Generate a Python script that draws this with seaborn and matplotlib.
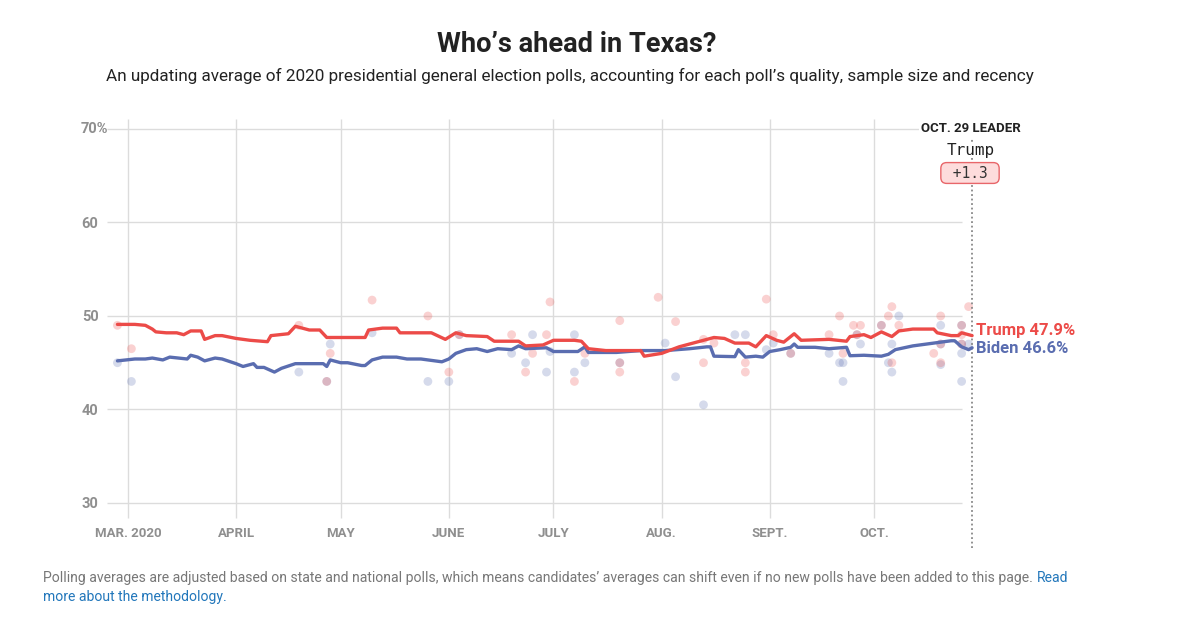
import numpy as np
import pandas as pd
import matplotlib
matplotlib.use('Agg')
import matplotlib.pyplot as plt
import seaborn as sns
from matplotlib import font_manager

# polling averages
trump_dates = ['2020-02-27', '2020-03-03', '2020-03-06', '2020-03-08', '2020-03-09', '2020-03-12',
               '2020-03-15', '2020-03-17', '2020-03-19', '2020-03-22', '2020-03-23', '2020-03-26',
               '2020-03-28', '2020-04-01', '2020-04-05', '2020-04-10', '2020-04-11', '2020-04-16',
               '2020-04-18', '2020-04-22', '2020-04-25', '2020-04-27', '2020-05-03', '2020-05-08',
               '2020-05-09', '2020-05-13', '2020-05-17', '2020-05-18', '2020-05-24', '2020-05-27',
               '2020-05-31', '2020-06-03', '2020-06-06', '2020-06-12', '2020-06-14', '2020-06-21',
               '2020-06-23', '2020-06-28', '2020-07-01', '2020-07-07', '2020-07-09', '2020-07-11',
               '2020-07-16', '2020-07-26', '2020-07-27', '2020-08-01', '2020-08-06', '2020-08-12',
               '2020-08-16', '2020-08-19', '2020-08-22', '2020-08-26', '2020-08-28', '2020-08-31',
               '2020-09-03', '2020-09-05', '2020-09-08', '2020-09-10', '2020-09-18', '2020-09-23',
               '2020-09-24', '2020-09-28', '2020-09-30', '2020-10-03', '2020-10-06', '2020-10-08',
               '2020-10-12', '2020-10-18', '2020-10-19', '2020-10-23', '2020-10-25', '2020-10-26',
               '2020-10-29']
trump_avg = [49.1, 49.1, 49.0, 48.6, 48.3, 48.2,
             48.2, 48.0, 48.4, 48.4, 47.5, 47.9,
             47.9, 47.6, 47.4, 47.25, 47.9, 48.1,
             48.9, 48.5, 48.5, 47.7, 47.7, 47.7,
             48.5, 48.7, 48.7, 48.2, 48.2, 48.2,
             47.5, 48.2, 47.9, 47.8, 47.3, 47.3,
             46.8, 46.9, 47.4, 47.4, 47.3, 46.5,
             46.3, 46.3, 45.7, 46.0, 46.7, 47.3,
             47.7, 47.6, 47.1, 47.1, 46.7, 47.9,
             47.4, 47.2, 48.1, 47.4, 47.5, 47.3,
             47.8, 48.0, 47.7, 48.3, 47.8, 48.4,
             48.6, 48.6, 48.2, 47.9, 47.9, 48.2,
             47.9]

biden_dates = ['2020-02-27', '2020-03-03', '2020-03-06', '2020-03-08', '2020-03-11', '2020-03-13',
               '2020-03-18', '2020-03-19', '2020-03-21', '2020-03-23', '2020-03-26', '2020-03-28',
               '2020-04-01', '2020-04-03', '2020-04-06', '2020-04-07', '2020-04-09', '2020-04-12',
               '2020-04-14', '2020-04-18', '2020-04-26', '2020-04-27', '2020-04-28', '2020-05-01',
               '2020-05-03', '2020-05-07', '2020-05-08', '2020-05-10', '2020-05-13', '2020-05-17',
               '2020-05-20', '2020-05-24', '2020-05-26', '2020-05-30', '2020-06-01', '2020-06-03',
               '2020-06-06', '2020-06-09', '2020-06-12', '2020-06-15', '2020-06-19', '2020-06-21',
               '2020-06-23', '2020-06-29', '2020-07-01', '2020-07-08', '2020-07-10', '2020-07-11',
               '2020-07-19', '2020-07-26', '2020-08-02', '2020-08-09', '2020-08-14', '2020-08-15',
               '2020-08-16', '2020-08-22', '2020-08-23', '2020-08-25', '2020-08-28', '2020-08-30',
               '2020-09-01', '2020-09-04', '2020-09-07', '2020-09-08', '2020-09-09', '2020-09-14',
               '2020-09-18', '2020-09-23', '2020-09-24', '2020-09-28', '2020-10-03', '2020-10-05',
               '2020-10-07', '2020-10-12', '2020-10-18', '2020-10-23', '2020-10-24', '2020-10-26',
               '2020-10-28', '2020-10-29']
biden_avg = [45.2, 45.4, 45.4, 45.5, 45.3, 45.6,
             45.4, 45.8, 45.6, 45.2, 45.5, 45.4,
             44.9, 44.6, 44.9, 44.5, 44.5, 44.0,
             44.4, 44.9, 44.9, 44.6, 45.3, 45.0,
             45.0, 44.7, 44.7, 45.3, 45.6, 45.6,
             45.4, 45.4, 45.3, 45.1, 45.4, 46.0,
             46.4, 46.5, 46.2, 46.5, 46.4, 46.8,
             46.5, 46.6, 46.2, 46.2, 46.7, 46.1,
             46.1, 46.3, 46.3, 46.5, 46.7, 46.7,
             45.7, 45.65, 46.4, 45.6, 45.7, 45.6,
             46.2, 46.4, 46.65, 47.0, 46.65, 46.65,
             46.5, 46.65, 45.75, 45.8, 45.7, 45.9,
             46.4, 46.8, 47.1, 47.35, 47.35, 46.7,
             46.4, 46.6]

# individual polls
trump_poll_dates = ['2020-02-27', '2020-03-02', '2020-04-19', '2020-04-27', '2020-04-28', '2020-05-10',
                    '2020-05-26', '2020-06-01', '2020-06-04', '2020-06-19', '2020-06-23', '2020-06-25',
                    '2020-06-29', '2020-06-30', '2020-07-07', '2020-07-10', '2020-07-20', '2020-07-20',
                    '2020-07-20', '2020-07-31', '2020-08-05', '2020-08-13', '2020-08-13', '2020-08-16',
                    '2020-08-25', '2020-08-25', '2020-08-31', '2020-09-02', '2020-09-07', '2020-09-18',
                    '2020-09-21', '2020-09-22', '2020-09-25', '2020-09-26', '2020-09-27', '2020-10-03',
                    '2020-10-05', '2020-10-06', '2020-10-06', '2020-10-08', '2020-10-18', '2020-10-20',
                    '2020-10-20', '2020-10-20', '2020-10-26', '2020-10-26', '2020-10-26', '2020-10-28']
trump_polls = [49, 46.5, 49, 43, 46, 51.7,
               50, 44, 48, 48, 44, 46,
               48, 51.5, 43, 46, 49.5, 44,
               45, 52, 49.4, 47.5, 45, 47.1,
               45, 44, 51.8, 48, 46, 48,
               50, 46, 49, 48, 49, 49,
               50, 51, 45, 49, 46, 50,
               45, 47, 49, 48, 47, 51]

biden_poll_dates = ['2020-02-27', '2020-03-02', '2020-04-19', '2020-04-27', '2020-04-28', '2020-05-10',
                    '2020-05-26', '2020-06-01', '2020-06-04', '2020-06-19', '2020-06-23', '2020-06-25',
                    '2020-06-29', '2020-06-30', '2020-07-07', '2020-07-07', '2020-07-10', '2020-07-20',
                    '2020-08-02', '2020-08-05', '2020-08-13', '2020-08-22', '2020-08-25', '2020-08-31',
                    '2020-09-02', '2020-09-07', '2020-09-18', '2020-09-21', '2020-09-22', '2020-09-22',
                    '2020-09-26', '2020-09-27', '2020-10-03', '2020-10-05', '2020-10-06', '2020-10-06',
                    '2020-10-08', '2020-10-20', '2020-10-20', '2020-10-20', '2020-10-26', '2020-10-26',
                    '2020-10-26', '2020-10-26', '2020-10-28']
biden_polls = [45, 43, 44, 43, 47, 48.2,
               43, 43, 48, 46, 45, 48,
               44, 46.2, 48, 44, 45, 45,
               47.1, 43.5, 40.5, 48, 48, 46.4,
               47.1, 46, 46, 45, 45, 43,
               48, 47, 49, 45, 47, 44,
               50, 49, 47, 44.8, 49, 47,
               46, 43, 47]

month_ticks = ['2020-03-01', '2020-04-01', '2020-05-01', '2020-06-01',
               '2020-07-01', '2020-08-01', '2020-09-01', '2020-10-01']
month_labels = ['MAR. 2020', 'APRIL', 'MAY', 'JUNE', 'JULY', 'AUG.', 'SEPT.', 'OCT.']
y_ticks = [30, 40, 50, 60, 70]
y_labels = ['30', '40', '50', '60', '']

RED = '#ec4b48'
BLUE = '#5a6db0'
GRID = '#dcdcdc'
TICK = '#8f8f8f'

sns.set_style('white')
names = set(f.name for f in font_manager.fontManager.ttflist)
narrow = 'Liberation Sans Narrow' if 'Liberation Sans Narrow' in names else 'Roboto'
plt.rcParams['font.family'] = [narrow, 'DejaVu Sans']

fig = plt.figure(figsize=(11.96, 6.38), dpi=100)
ax = fig.add_axes([100 / 1196, (638 - 520) / 638, 900 / 1196, 410 / 638])
ax.set_xlim(pd.Timestamp('2020-02-22'), pd.Timestamp('2020-11-06'))
ax.set_ylim(28.18, 72.03)

# gridlines
ax.hlines(y_ticks, pd.Timestamp('2020-02-24'), pd.Timestamp('2020-10-26'), color=GRID, lw=1, zorder=0)
ax.vlines(pd.to_datetime(month_ticks), 28.4, 71.1, color=GRID, lw=1, zorder=0)

# polls
sns.scatterplot(x=pd.to_datetime(biden_poll_dates), y=biden_polls, color=BLUE, alpha=0.25,
                s=40, edgecolor='none', ax=ax, zorder=1)
sns.scatterplot(x=pd.to_datetime(trump_poll_dates), y=trump_polls, color=RED, alpha=0.25,
                s=40, edgecolor='none', ax=ax, zorder=1)

# averages
sns.lineplot(x=pd.to_datetime(biden_dates), y=biden_avg, color=BLUE, lw=2.4, ax=ax, zorder=3)
sns.lineplot(x=pd.to_datetime(trump_dates), y=trump_avg, color=RED, lw=2.4, ax=ax, zorder=4)

for s in ax.spines.values():
    s.set_visible(False)
ax.tick_params(length=0)
ax.tick_params(axis='x', pad=5)
ax.tick_params(axis='y', pad=1)
ax.set_xticks(pd.to_datetime(month_ticks), month_labels, fontsize=9.5, fontweight='bold', color=TICK)
ax.set_yticks(y_ticks, y_labels, fontsize=10.5, fontweight='bold', color=TICK)
# top label carries the percent sign, which hangs past the other labels
ax.text(0.009, 70, '70%', transform=ax.get_yaxis_transform(), ha='right', va='center',
        fontsize=10.5, fontweight='bold', color=TICK)
ax.set_xlabel('')
ax.set_ylabel('')

# leader marker
oct29 = pd.Timestamp('2020-10-29')
ax.vlines(oct29, 25.2, 69.8, color='#888888', lw=1.3, linestyles=(0, (1, 1.5)), clip_on=False, zorder=2)

ax.text(pd.Timestamp('2020-10-30'), 48.5, 'Trump 47.9%', color=RED, fontsize=12, fontweight='bold',
        family='Roboto', ha='left', va='center')
ax.text(pd.Timestamp('2020-10-30'), 46.5, 'Biden 46.6%', color=BLUE, fontsize=12, fontweight='bold',
        family='Roboto', ha='left', va='center')

fig.text(971 / 1196, 1 - 129 / 638, 'OCT. 29 LEADER', ha='center', va='center', fontsize=9.5,
         fontweight='bold', color='#222222', family='Roboto',
         bbox=dict(facecolor='white', edgecolor='none', pad=1.5))
fig.text(971 / 1196, 1 - 150 / 638, 'Trump', ha='center', va='center', fontsize=11.5,
         color='#222222', family='DejaVu Sans Mono',
         bbox=dict(facecolor='white', edgecolor='none', pad=0.5))
fig.text(970 / 1196, 1 - 173 / 638, ' +1.3 ', ha='center', va='center', fontsize=10.5,
         color='#333333', family='DejaVu Sans Mono',
         bbox=dict(boxstyle='round,pad=0.2,rounding_size=0.4', facecolor='#fddcdc', edgecolor='#e8666a', lw=1))

renderer = fig.canvas.get_renderer()


def fit_text(x, y, s, width_px, **kw):
    t = fig.text(x, y, s, **kw)
    w = t.get_window_extent(renderer).width
    t.set_fontsize(t.get_fontsize() * width_px / w)
    return t


fit_text(577 / 1196, 1 - 45 / 638, 'Who’s ahead in Texas?', 280, ha='center', va='center',
         fontsize=17, fontweight='bold', color='#222222')
fit_text(570 / 1196, 1 - 76 / 638,
         'An updating average of 2020 presidential general election polls, accounting for each '
         'poll’s quality, sample size and recency', 928, ha='center', va='center', fontsize=12,
         color='#222222')

foot = fit_text(43 / 1196, 1 - 578 / 638,
                'Polling averages are adjusted based on state and national polls, which means '
                'candidates’ averages can shift even if no new polls have been added to this page.',
                990, ha='left', va='center', fontsize=10, color='#777777')
fs = foot.get_fontsize()
end_x = foot.get_window_extent(renderer).x1
fig.text((end_x + 4) / 1196, 1 - 578 / 638, 'Read', ha='left', va='center', fontsize=fs, color='#2277bb')
fig.text(43 / 1196, 1 - 597 / 638, 'more about the methodology.', ha='left', va='center',
         fontsize=fs, color='#2277bb')

fig.savefig('out.png', dpi=100)
